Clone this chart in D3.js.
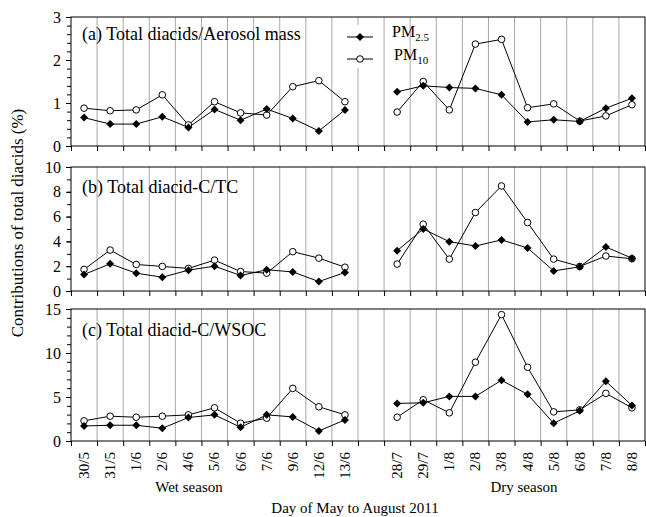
<!DOCTYPE html>
<html>
<head>
<meta charset="utf-8">
<script src="https://cdn.jsdelivr.net/npm/d3@7"></script>
<style>
  body { margin: 0; background: #fff; }
  svg { display: block; font-family: 'Liberation Serif', 'Times New Roman', serif; }
</style>
</head>
<body>
<div id="chart"><svg width="646" height="517"></svg></div>
<script>
// categories (one empty slot between the seasons)
const wetDays = ['30/5', '31/5', '1/6', '2/6', '4/6', '5/6', '6/6', '7/6', '9/6', '12/6', '13/6'];
const dryDays = ['28/7', '29/7', '1/8', '2/8', '3/8', '4/8', '5/8', '6/8', '7/8', '8/8'];

// (a) Total diacids/Aerosol mass
const aWetPM25 = [0.66, 0.51, 0.51, 0.68, 0.43, 0.85, 0.60, 0.86, 0.64, 0.35, 0.84];
const aWetPM10 = [0.88, 0.82, 0.84, 1.19, 0.49, 1.03, 0.77, 0.72, 1.38, 1.52, 1.03];
const aDryPM25 = [1.26, 1.40, 1.36, 1.34, 1.19, 0.56, 0.61, 0.57, 0.88, 1.11];
const aDryPM10 = [0.79, 1.50, 0.84, 2.37, 2.48, 0.89, 0.98, 0.58, 0.70, 0.96];

// (b) Total diacid-C/TC
const bWetPM25 = [1.33, 2.19, 1.44, 1.11, 1.68, 2.00, 1.25, 1.71, 1.54, 0.76, 1.49];
const bWetPM10 = [1.74, 3.30, 2.14, 1.98, 1.82, 2.49, 1.57, 1.44, 3.17, 2.65, 1.92];
const bDryPM25 = [3.25, 5.00, 3.98, 3.63, 4.12, 3.47, 1.62, 1.95, 3.55, 2.65];
const bDryPM10 = [2.17, 5.39, 2.57, 6.33, 8.47, 5.52, 2.57, 1.98, 2.82, 2.60];

// (c) Total diacid-C/WSOC
const cWetPM25 = [1.71, 1.79, 1.79, 1.45, 2.67, 2.97, 1.56, 2.97, 2.74, 1.14, 2.40];
const cWetPM10 = [2.29, 2.82, 2.70, 2.82, 2.97, 3.77, 2.02, 2.59, 5.98, 3.89, 2.97];
const cDryPM25 = [4.27, 4.34, 5.07, 5.07, 6.90, 5.30, 2.02, 3.43, 6.78, 4.04];
const cDryPM10 = [2.70, 4.69, 3.20, 8.95, 14.36, 8.38, 3.31, 3.54, 5.41, 3.77];

const panelTitles = ['(a) Total diacids/Aerosol mass', '(b) Total diacid-C/TC', '(c) Total diacid-C/WSOC'];
const yMax = [3, 10, 15];
const yMajor = [1, 2, 5];
const yMinor = [0.2, 1, 1];

const SVG = d3.select('#chart svg');
const LEFT = 71;
const RIGHT = 645;
const PANELS = [
  { top: 17, bottom: 146, wet: [aWetPM25, aWetPM10], dry: [aDryPM25, aDryPM10] },
  { top: 167, bottom: 291, wet: [bWetPM25, bWetPM10], dry: [bDryPM25, bDryPM10] },
  { top: 309, bottom: 441, wet: [cWetPM25, cWetPM10], dry: [cDryPM25, cDryPM10] }
];

const SLOTS = [...wetDays, ' ', ...dryDays];
const X_SCALE = d3.scaleBand()
  .domain(SLOTS)
  .range([LEFT, RIGHT]);
// slot boundaries for grid and ticks
const X_EDGE = d3.scaleLinear()
  .domain([0, SLOTS.length])
  .range([LEFT, RIGHT]);
const xCenter = d => X_SCALE(d) + X_SCALE.bandwidth() / 2;

const diamond = (x, y, r) => `M${x},${y - r}L${x + r},${y}L${x},${y + r}L${x - r},${y}Z`;

PANELS.forEach((p, i) => {
  const Y_SCALE = d3.scaleLinear()
    .domain([0, yMax[i]])
    .range([p.bottom, p.top]);

  const G = SVG.append('g').attr('class', 'panel');

  // vertical grid lines
  G.append('g')
    .selectAll('line')
    .data(d3.range(1, SLOTS.length))
    .join('line')
    .attr('x1', d => X_EDGE(d))
    .attr('x2', d => X_EDGE(d))
    .attr('y1', p.top)
    .attr('y2', p.bottom)
    .style('stroke', '#a8a8a8')
    .style('stroke-width', 1);

  // minor y ticks
  const MINOR = d3.axisLeft(Y_SCALE)
    .tickValues(d3.range(0, yMax[i] + 1e-9, yMinor[i]))
    .tickSize(4)
    .tickFormat('');
  G.append('g')
    .attr('transform', `translate(${LEFT},0)`)
    .call(MINOR)
    .call(g => g.select('.domain').remove());

  // major y ticks
  const Y_AXIS = d3.axisLeft(Y_SCALE)
    .tickValues(d3.range(0, yMax[i] + 1e-9, yMajor[i]))
    .tickSize(5)
    .tickPadding(5)
    .tickFormat(d3.format('d'));
  G.append('g')
    .attr('transform', `translate(${LEFT},0)`)
    .call(Y_AXIS)
    .call(g => g.select('.domain').remove())
    .call(g => g.selectAll('text').style('font-size', '16px').style('font-family', 'Liberation Serif').style('fill', '#000'));

  // bottom ticks at slot boundaries
  const X_AXIS = d3.axisBottom(X_EDGE)
    .tickValues(d3.range(0, SLOTS.length + 1))
    .tickSize(5)
    .tickFormat('');
  G.append('g')
    .attr('transform', `translate(0,${p.bottom})`)
    .call(X_AXIS)
    .call(g => g.select('.domain').remove());

  // frame
  G.append('rect')
    .attr('x', LEFT)
    .attr('y', p.top)
    .attr('width', RIGHT - LEFT)
    .attr('height', p.bottom - p.top)
    .style('fill', 'none')
    .style('stroke', '#000')
    .style('stroke-width', 1);

  G.append('text')
    .text(panelTitles[i])
    .attr('x', 82)
    .attr('y', [40, 193, 336][i])
    .style('font-size', '18px');

  const LINE = d3.line()
    .x(d => xCenter(d.day))
    .y(d => Y_SCALE(d.v));

  const seg = (days, vals) => days.map((day, k) => ({ day: day, v: vals[k] }));
  const groups = [
    { pm10: seg(wetDays, p.wet[1]), pm25: seg(wetDays, p.wet[0]) },
    { pm10: seg(dryDays, p.dry[1]), pm25: seg(dryDays, p.dry[0]) }
  ];

  groups.forEach(s => {
    G.append('path')
      .datum(s.pm10)
      .attr('d', LINE)
      .style('fill', 'none')
      .style('stroke', '#000')
      .style('stroke-width', 1);
    G.append('path')
      .datum(s.pm25)
      .attr('d', LINE)
      .style('fill', 'none')
      .style('stroke', '#000')
      .style('stroke-width', 1);
  });

  groups.forEach(s => {
    G.append('g')
      .selectAll('circle')
      .data(s.pm10)
      .join('circle')
      .attr('cx', d => xCenter(d.day))
      .attr('cy', d => Y_SCALE(d.v))
      .attr('r', 3.3)
      .style('fill', '#fff')
      .style('stroke', '#000')
      .style('stroke-width', 1);
    G.append('g')
      .selectAll('path')
      .data(s.pm25)
      .join('path')
      .attr('d', d => diamond(xCenter(d.day), Y_SCALE(d.v), 4))
      .style('fill', '#000');
  });
});

// x tick labels
SVG.append('g')
  .selectAll('text')
  .data([...wetDays, ...dryDays])
  .join('text')
  .text(d => d)
  .attr('transform', d => `translate(${xCenter(d)},452) rotate(-90)`)
  .attr('dy', '0.33em')
  .style('text-anchor', 'end')
  .style('font-size', '15px');

// legend
const LEG = SVG.append('g').attr('id', 'legend');
LEG.append('rect')
  .attr('x', 343).attr('y', 25).attr('width', 34).attr('height', 43)
  .style('fill', '#fff');
LEG.append('line')
  .attr('x1', 347).attr('x2', 373).attr('y1', 37).attr('y2', 37)
  .style('stroke', '#000');
LEG.append('path')
  .attr('d', diamond(360, 37, 4))
  .style('fill', '#000');
LEG.append('line')
  .attr('x1', 347).attr('x2', 373).attr('y1', 59).attr('y2', 59)
  .style('stroke', '#000');
LEG.append('circle')
  .attr('cx', 360).attr('cy', 59).attr('r', 3.3)
  .style('fill', '#fff').style('stroke', '#000');

const t1 = LEG.append('text').attr('x', 392).attr('y', 37).style('font-size', '16px');
t1.append('tspan').text('PM');
t1.append('tspan').text('2.5').attr('dy', 4).style('font-size', '11px');
const t2 = LEG.append('text').attr('x', 394).attr('y', 59.5).style('font-size', '16px');
t2.append('tspan').text('PM');
t2.append('tspan').text('10').attr('dy', 4).style('font-size', '11px');

// axis titles
SVG.append('text')
  .text('Contributions of total diacids (%)')
  .attr('transform', 'translate(23,223) rotate(-90)')
  .style('text-anchor', 'middle')
  .style('font-size', '17px');

SVG.append('text').text('Wet season')
  .attr('x', 189).attr('y', 492)
  .style('text-anchor', 'middle').style('font-size', '15px');
SVG.append('text').text('Dry season')
  .attr('x', 524).attr('y', 492)
  .style('text-anchor', 'middle').style('font-size', '15px');
SVG.append('text').text('Day of May to August 2011')
  .attr('x', 355).attr('y', 513)
  .style('text-anchor', 'middle').style('font-size', '15px');
</script>
</body>
</html>
